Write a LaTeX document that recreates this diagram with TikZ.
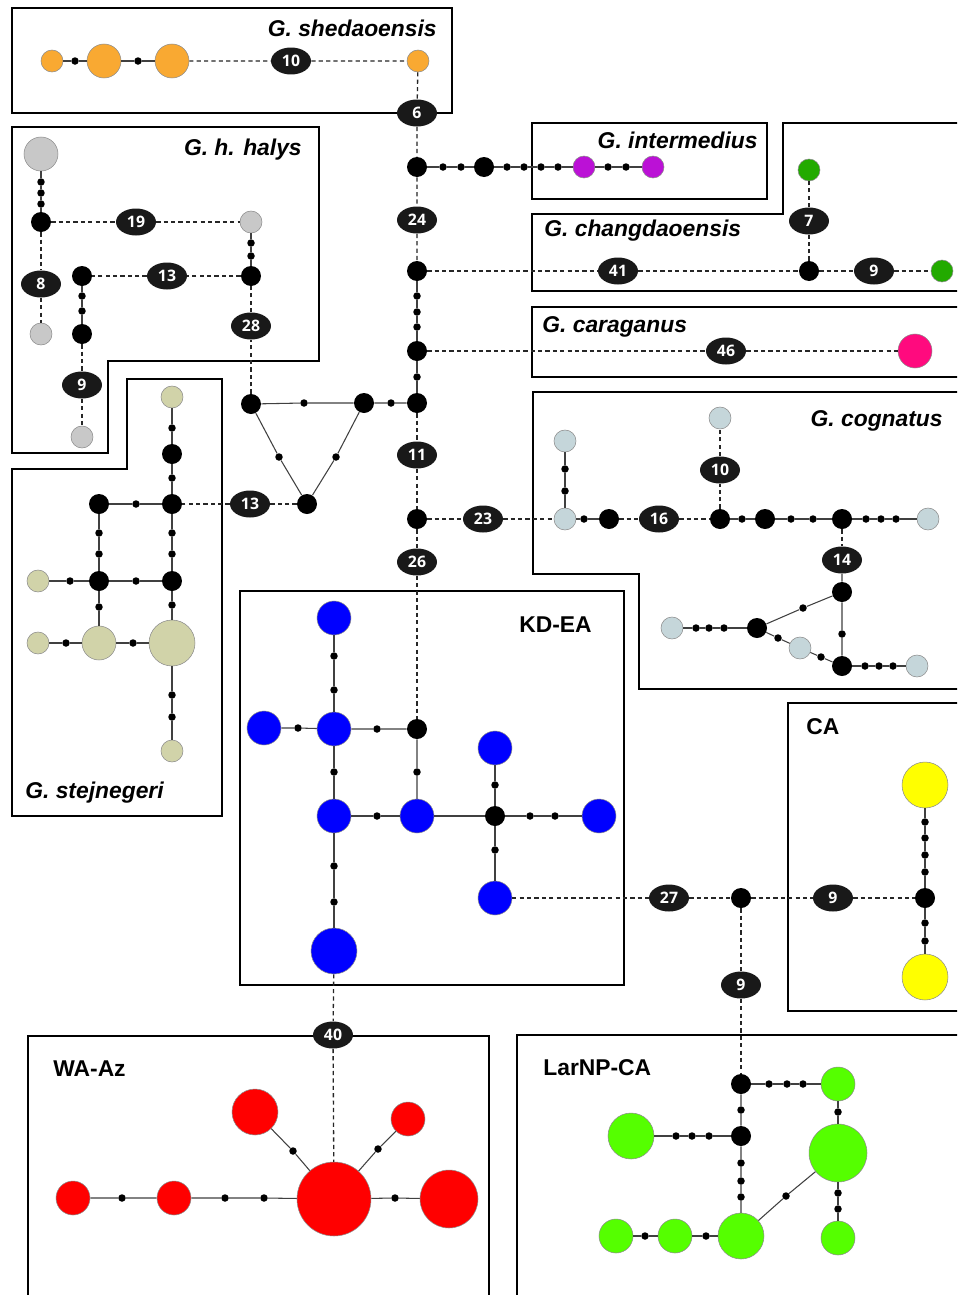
\documentclass[tikz,border=0pt]{standalone}
\usepackage{fontspec}
\setsansfont{Liberation Sans}
\newfontfamily\numfont{Open Sans}
\usetikzlibrary{shapes.geometric}
\definecolor{c_or}{HTML}{F9A932}
\definecolor{c_gy}{HTML}{C8C8C8}
\definecolor{c_pu}{HTML}{BB11D6}
\definecolor{c_dg}{HTML}{22AA00}
\definecolor{c_pk}{HTML}{FF0A7E}
\definecolor{c_tn}{HTML}{D1D3A9}
\definecolor{c_lb}{HTML}{C5D6DA}
\definecolor{c_bl}{HTML}{0000FF}
\definecolor{c_ye}{HTML}{FFFF00}
\definecolor{c_gr}{HTML}{55FF00}
\definecolor{c_rd}{HTML}{FF0000}
\tikzset{
  hap/.style 2 args = {circle, inner sep=0pt, fill=#1, draw=black!45,
    line width=0.3pt, minimum size=#2},
  mv_n/.style = {circle, inner sep=0pt, fill=black, minimum size=0.4cm},
  mv_d/.style = {circle, inner sep=0pt, fill=black, minimum size=0.15cm},
  mut_e/.style = {ellipse, inner sep=0pt, fill=black!90, text=white,
    minimum width=0.8cm, minimum height=0.54cm,
    font=\numfont\bfseries\fontsize{9}{10}\selectfont},
  lnk/.style = {draw=black!75, line width=0.6pt},
  gap/.style = {draw=black!85, line width=0.75pt, dash pattern=on 2.4pt off 1.8pt},
  frame_b/.style = {draw=black, line width=1.3pt},
  sp_lab/.style = {inner sep=0pt,
    font=\sffamily\bfseries\itshape\fontsize{13}{15}\selectfont},
  rg_lab/.style = {inner sep=0pt,
    font=\sffamily\bfseries\fontsize{13}{15}\selectfont}
}
\begin{document}
\begin{tikzpicture}[x=0.02cm, y=-0.02cm]
\clip (0,0) rectangle (957,1295);
\fill[white] (0,0) rectangle (957,1295);

\draw[frame_b] (12,8) rectangle (452,113);
\draw[frame_b] (12,127) -- (319,127) -- (319,361) -- (108,361) -- (108,453) -- (12,453) -- cycle;
\draw[frame_b] (127,379) -- (222,379) -- (222,816) -- (12,816) -- (12,469) -- (127,469) -- cycle;
\draw[frame_b] (532,123) rectangle (767,199);
\draw[frame_b] (965,123) -- (783,123) -- (783,214) -- (532,214) -- (532,291) -- (965,291);
\draw[frame_b] (965,307) -- (532,307) -- (532,377) -- (965,377);
\draw[frame_b] (965,392) -- (533,392) -- (533,574) -- (639,574) -- (639,689) -- (965,689);
\draw[frame_b] (240,591) rectangle (624,985);
\draw[frame_b] (965,703) -- (788,703) -- (788,1011) -- (965,1011);
\draw[frame_b] (28,1300) -- (28,1036) -- (489,1036) -- (489,1300);
\draw[frame_b] (517,1300) -- (517,1035) -- (965,1035);

\node[sp_lab, anchor=east] (t_sh) at (437,28) {G. shedaoensis};
\node[sp_lab, anchor=east] (t_ha) at (302,150) {G. h. halys};
\node[sp_lab, anchor=east] (t_in) at (758,140) {G. intermedius};
\node[sp_lab, anchor=west] (t_ch) at (544,231) {G. changdaoensis};
\node[sp_lab, anchor=west] (t_ca) at (542,327) {G. caraganus};
\node[sp_lab, anchor=east] (t_co) at (943,421) {G. cognatus};
\node[sp_lab, anchor=west] (t_st) at (25,793) {G. stejnegeri};
\node[rg_lab, anchor=west] (t_kd) at (519,625) {KD-EA};
\node[rg_lab, anchor=west] (t_cA) at (806,727) {CA};
\node[rg_lab, anchor=west] (t_wa) at (53,1069) {WA-Az};
\node[rg_lab, anchor=west] (t_la) at (543,1068) {LarNP-CA};

\node[hap={c_or}{0.44cm}] (sh1) at (52,61) {};
\node[hap={c_or}{0.68cm}] (sh2) at (104,61) {};
\node[hap={c_or}{0.68cm}] (sh3) at (172,61) {};
\node[hap={c_or}{0.44cm}] (sh4) at (418,61) {};
\node[mv_d] (sd1) at (75,61) {};
\node[mv_d] (sd2) at (138,61) {};
\node[mut_e] (n10a) at (291,61) {10};
\node[mut_e] (n6) at (417,113) {6};

\node[mv_n] (c1) at (417,167) {};
\node[mut_e] (n24) at (417,220) {24};
\node[mv_n] (c2) at (417,271) {};
\node[mv_d] (cd1) at (417,296) {};
\node[mv_d] (cd2) at (417,312) {};
\node[mv_d] (cd3) at (417,327) {};
\node[mv_n] (c3) at (417,351) {};
\node[mv_d] (cd4) at (417,377) {};
\node[mv_n] (c4) at (417,403) {};
\node[mut_e] (n11) at (417,455) {11};
\node[mv_n] (c5) at (417,519) {};
\node[mut_e] (n26) at (417,562) {26};

\node[mv_d] (id1) at (443,167) {};
\node[mv_d] (id2) at (461,167) {};
\node[mv_n] (i1) at (484,167) {};
\node[mv_d] (id3) at (507,167) {};
\node[mv_d] (id4) at (524,167) {};
\node[mv_d] (id5) at (541,167) {};
\node[mv_d] (id6) at (558,167) {};
\node[hap={c_pu}{0.44cm}] (ip1) at (584,167) {};
\node[mv_d] (id7) at (608,167) {};
\node[mv_d] (id8) at (626,167) {};
\node[hap={c_pu}{0.44cm}] (ip2) at (653,167) {};

\node[mut_e] (n41) at (618,271) {41};
\node[mv_n] (ch1) at (809,271) {};
\node[mut_e] (n7) at (809,221) {7};
\node[hap={c_dg}{0.44cm}] (cg1) at (809,170) {};
\node[mut_e] (n9a) at (874,271) {9};
\node[hap={c_dg}{0.44cm}] (cg2) at (942,271) {};

\node[mut_e] (n46) at (726,351) {46};
\node[hap={c_pk}{0.68cm}] (cr1) at (915,351) {};

\node[mv_d] (td1) at (391,403) {};
\node[mv_n] (t1) at (364,403) {};
\node[mv_d] (td2) at (304,403) {};
\node[mv_n] (t2) at (251,404) {};
\node[mv_d] (td3) at (279,457) {};
\node[mv_d] (td4) at (336,457) {};
\node[mv_n] (t3) at (307,504) {};
\node[mut_e] (n28) at (251,326) {28};
\node[mut_e] (n13b) at (250,504) {13};

\node[mv_n] (h1) at (251,276) {};
\node[mv_d] (hd1) at (251,256) {};
\node[mv_d] (hd2) at (251,243) {};
\node[hap={c_gy}{0.44cm}] (hg1) at (251,222) {};
\node[mut_e] (n13a) at (167,276) {13};
\node[mv_n] (h2) at (82,276) {};
\node[mv_d] (hd3) at (82,296) {};
\node[mv_d] (hd4) at (82,311) {};
\node[mv_n] (h3) at (82,334) {};
\node[mut_e] (n9b) at (82,385) {9};
\node[hap={c_gy}{0.44cm}] (hg2) at (82,437) {};
\node[hap={c_gy}{0.68cm}] (hg3) at (41,154) {};
\node[mv_d] (hd5) at (41,182) {};
\node[mv_d] (hd6) at (41,193) {};
\node[mv_d] (hd7) at (41,204) {};
\node[mv_n] (h4) at (41,222) {};
\node[mut_e] (n19) at (136,222) {19};
\node[mut_e] (n8) at (41,284) {8};
\node[hap={c_gy}{0.44cm}] (hg4) at (41,334) {};

\node[hap={c_tn}{0.44cm}] (sg1) at (172,397) {};
\node[mv_d] (jd1) at (172,428) {};
\node[mv_n] (sj2) at (172,454) {};
\node[mv_d] (jd2) at (172,478) {};
\node[mv_n] (sj1) at (172,504) {};
\node[mv_d] (jd3) at (136,504) {};
\node[mv_n] (sj3) at (99,504) {};
\node[mv_d] (jd4) at (99,533) {};
\node[mv_d] (jd5) at (99,554) {};
\node[mv_n] (sj4) at (99,581) {};
\node[mv_d] (jd6) at (172,533) {};
\node[mv_d] (jd7) at (172,554) {};
\node[mv_n] (sj5) at (172,581) {};
\node[mv_d] (jd8) at (136,581) {};
\node[mv_d] (jd9) at (70,581) {};
\node[hap={c_tn}{0.44cm}] (sg2) at (38,581) {};
\node[mv_d] (jd10) at (99,607) {};
\node[hap={c_tn}{0.68cm}] (sg3) at (99,643) {};
\node[mv_d] (jd11) at (172,605) {};
\node[hap={c_tn}{0.92cm}] (sg4) at (172,643) {};
\node[hap={c_tn}{0.44cm}] (sg5) at (38,643) {};
\node[mv_d] (jd12) at (66,643) {};
\node[mv_d] (jd13) at (133,643) {};
\node[mv_d] (jd14) at (172,695) {};
\node[mv_d] (jd15) at (172,717) {};
\node[hap={c_tn}{0.44cm}] (sg6) at (172,751) {};

\node[mut_e] (n23) at (483,519) {23};
\node[hap={c_lb}{0.44cm}] (cb1) at (565,519) {};
\node[hap={c_lb}{0.44cm}] (cb2) at (565,441) {};
\node[mv_d] (od1) at (565,469) {};
\node[mv_d] (od2) at (565,491) {};
\node[mv_d] (od3) at (584,519) {};
\node[mv_n] (co1) at (609,519) {};
\node[mut_e] (n16) at (659,519) {16};
\node[mv_n] (co2) at (720,519) {};
\node[mut_e] (n10b) at (720,470) {10};
\node[hap={c_lb}{0.44cm}] (cb3) at (720,418) {};
\node[mv_d] (od4) at (742,519) {};
\node[mv_n] (co3) at (765,519) {};
\node[mv_d] (od5) at (791,519) {};
\node[mv_d] (od6) at (813,519) {};
\node[mv_n] (co4) at (842,519) {};
\node[mv_d] (od7) at (866,519) {};
\node[mv_d] (od8) at (881,519) {};
\node[mv_d] (od9) at (896,519) {};
\node[hap={c_lb}{0.44cm}] (cb4) at (928,519) {};
\node[mut_e] (n14) at (842,560) {14};
\node[mv_n] (co5) at (842,592) {};
\node[mv_n] (co6) at (757,628) {};
\node[mv_d] (od10) at (803,608) {};
\node[mv_d] (od11) at (842,634) {};
\node[mv_n] (co7) at (842,666) {};
\node[mv_d] (od12) at (778,638) {};
\node[hap={c_lb}{0.44cm}] (cb5) at (800,648) {};
\node[mv_d] (od13) at (821,657) {};
\node[hap={c_lb}{0.44cm}] (cb6) at (672,628) {};
\node[mv_d] (od14) at (696,628) {};
\node[mv_d] (od15) at (709,628) {};
\node[mv_d] (od16) at (724,628) {};
\node[mv_d] (od17) at (865,666) {};
\node[mv_d] (od18) at (879,666) {};
\node[mv_d] (od19) at (893,666) {};
\node[hap={c_lb}{0.44cm}] (cb7) at (917,666) {};

\node[hap={c_bl}{0.68cm}] (kb1) at (334,618) {};
\node[mv_d] (kd1) at (334,656) {};
\node[mv_d] (kd2) at (334,690) {};
\node[hap={c_bl}{0.68cm}] (kb2) at (334,729) {};
\node[hap={c_bl}{0.68cm}] (kb3) at (264,728) {};
\node[mv_d] (kd3) at (298,728) {};
\node[mv_d] (kd4) at (377,729) {};
\node[mv_n] (k1) at (417,729) {};
\node[mv_d] (kd5) at (417,772) {};
\node[hap={c_bl}{0.68cm}] (kb4) at (417,816) {};
\node[mv_d] (kd6) at (334,772) {};
\node[hap={c_bl}{0.68cm}] (kb5) at (334,816) {};
\node[mv_d] (kd7) at (377,816) {};
\node[mv_n] (k2) at (495,816) {};
\node[mv_d] (kd8) at (495,785) {};
\node[hap={c_bl}{0.68cm}] (kb6) at (495,748) {};
\node[mv_d] (kd9) at (530,816) {};
\node[mv_d] (kd10) at (555,816) {};
\node[hap={c_bl}{0.68cm}] (kb7) at (599,816) {};
\node[mv_d] (kd11) at (495,850) {};
\node[hap={c_bl}{0.68cm}] (kb8) at (495,898) {};
\node[mv_d] (kd12) at (334,866) {};
\node[mv_d] (kd13) at (334,902) {};
\node[hap={c_bl}{0.92cm}] (kb9) at (334,951) {};

\node[mut_e] (n27) at (669,898) {27};
\node[mv_n] (x1) at (741,898) {};
\node[mut_e] (n9c) at (833,898) {9};
\node[mv_n] (ca1) at (925,898) {};
\node[mut_e] (n9d) at (741,985) {9};
\node[mut_e] (n40) at (333,1035) {40};

\node[hap={c_ye}{0.92cm}] (cy1) at (925,785) {};
\node[mv_d] (ad1) at (925,822) {};
\node[mv_d] (ad2) at (925,838) {};
\node[mv_d] (ad3) at (925,855) {};
\node[mv_d] (ad4) at (925,872) {};
\node[mv_d] (ad5) at (925,923) {};
\node[mv_d] (ad6) at (925,941) {};
\node[hap={c_ye}{0.92cm}] (cy2) at (925,977) {};

\node[mv_n] (l1) at (741,1084) {};
\node[mv_d] (ld1) at (769,1084) {};
\node[mv_d] (ld2) at (787,1084) {};
\node[mv_d] (ld3) at (803,1084) {};
\node[hap={c_gr}{0.68cm}] (lg1) at (838,1084) {};
\node[mv_d] (ld4) at (838,1112) {};
\node[hap={c_gr}{1.16cm}] (lg2) at (838,1153) {};
\node[mv_d] (ld5) at (838,1193) {};
\node[mv_d] (ld6) at (838,1209) {};
\node[hap={c_gr}{0.68cm}] (lg3) at (838,1238) {};
\node[mv_d] (ld7) at (741,1110) {};
\node[mv_n] (l2) at (741,1136) {};
\node[hap={c_gr}{0.92cm}] (lg4) at (631,1136) {};
\node[mv_d] (ld8) at (676,1136) {};
\node[mv_d] (ld9) at (692,1136) {};
\node[mv_d] (ld10) at (709,1136) {};
\node[mv_d] (ld11) at (741,1163) {};
\node[mv_d] (ld12) at (741,1181) {};
\node[mv_d] (ld13) at (741,1197) {};
\node[hap={c_gr}{0.92cm}] (lg5) at (741,1236) {};
\node[mv_d] (ld14) at (786,1196) {};
\node[hap={c_gr}{0.68cm}] (lg6) at (616,1236) {};
\node[mv_d] (ld15) at (645,1236) {};
\node[hap={c_gr}{0.68cm}] (lg7) at (675,1236) {};
\node[mv_d] (ld16) at (706,1236) {};

\node[hap={c_rd}{1.48cm}] (w1) at (334,1199) {};
\node[hap={c_rd}{0.92cm}] (wr1) at (255,1112) {};
\node[mv_d] (wd1) at (293,1151) {};
\node[hap={c_rd}{0.68cm}] (wr2) at (408,1119) {};
\node[mv_d] (wd2) at (378,1149) {};
\node[hap={c_rd}{0.68cm}] (wr3) at (73,1198) {};
\node[mv_d] (wd3) at (122,1198) {};
\node[hap={c_rd}{0.68cm}] (wr4) at (174,1198) {};
\node[mv_d] (wd4) at (225,1198) {};
\node[mv_d] (wd5) at (264,1198) {};
\node[mv_d] (wd6) at (395,1198) {};
\node[hap={c_rd}{1.16cm}] (wr5) at (449,1199) {};

\draw[lnk] (sh1) -- (sd1) -- (sh2) -- (sd2) -- (sh3);
\draw[gap] (sh3) -- (n10a) -- (sh4) -- (n6) -- (c1) -- (n24) -- (c2);
\draw[lnk] (c1) -- (id1) -- (id2) -- (i1) -- (id3) -- (id4) -- (id5) -- (id6) -- (ip1) -- (id7) -- (id8) -- (ip2);
\draw[lnk] (c2) -- (cd1) -- (cd2) -- (cd3) -- (c3) -- (cd4) -- (c4);
\draw[gap] (c4) -- (n11) -- (c5) -- (n26) -- (k1);
\draw[gap] (c2) -- (n41) -- (ch1) -- (n9a) -- (cg2);
\draw[gap] (ch1) -- (n7) -- (cg1);
\draw[gap] (c3) -- (n46) -- (cr1);
\draw[lnk] (c4) -- (td1) -- (t1) -- (td2) -- (t2) -- (td3) -- (t3) -- (td4) -- (t1);
\draw[gap] (t2) -- (n28) -- (h1) -- (n13a) -- (h2);
\draw[gap] (t3) -- (n13b) -- (sj1);
\draw[lnk] (h1) -- (hd1) -- (hd2) -- (hg1);
\draw[lnk] (h2) -- (hd3) -- (hd4) -- (h3);
\draw[gap] (h3) -- (n9b) -- (hg2);
\draw[lnk] (hg3) -- (hd5) -- (hd6) -- (hd7) -- (h4);
\draw[gap] (h4) -- (n19) -- (hg1);
\draw[gap] (h4) -- (n8) -- (hg4);
\draw[lnk] (sg1) -- (jd1) -- (sj2) -- (jd2) -- (sj1) -- (jd6) -- (jd7) -- (sj5) -- (jd11) -- (sg4) -- (jd14) -- (jd15) -- (sg6);
\draw[lnk] (sj1) -- (jd3) -- (sj3) -- (jd4) -- (jd5) -- (sj4) -- (jd10) -- (sg3);
\draw[lnk] (sg2) -- (jd9) -- (sj4) -- (jd8) -- (sj5);
\draw[lnk] (sg5) -- (jd12) -- (sg3) -- (jd13) -- (sg4);
\draw[gap] (c5) -- (n23) -- (cb1);
\draw[lnk] (cb2) -- (od1) -- (od2) -- (cb1) -- (od3) -- (co1);
\draw[gap] (co1) -- (n16) -- (co2) -- (n10b) -- (cb3);
\draw[lnk] (co2) -- (od4) -- (co3) -- (od5) -- (od6) -- (co4) -- (od7) -- (od8) -- (od9) -- (cb4);
\draw[gap] (co4) -- (n14);
\draw[lnk] (n14) -- (co5) -- (od11) -- (co7) -- (od13) -- (cb5) -- (od12) -- (co6) -- (od10) -- (co5);
\draw[lnk] (cb6) -- (od14) -- (od15) -- (od16) -- (co6);
\draw[lnk] (co7) -- (od17) -- (od18) -- (od19) -- (cb7);
\draw[lnk] (kb1) -- (kd1) -- (kd2) -- (kb2) -- (kd6) -- (kb5) -- (kd12) -- (kd13) -- (kb9);
\draw[lnk] (kb3) -- (kd3) -- (kb2) -- (kd4) -- (k1) -- (kd5) -- (kb4);
\draw[lnk] (kb5) -- (kd7) -- (kb4) -- (k2) -- (kd9) -- (kd10) -- (kb7);
\draw[lnk] (kb6) -- (kd8) -- (k2) -- (kd11) -- (kb8);
\draw[gap] (kb8) -- (n27) -- (x1) -- (n9c) -- (ca1);
\draw[gap] (x1) -- (n9d) -- (l1);
\draw[gap] (kb9) -- (n40) -- (w1);
\draw[lnk] (cy1) -- (ad1) -- (ad2) -- (ad3) -- (ad4) -- (ca1) -- (ad5) -- (ad6) -- (cy2);
\draw[lnk] (l1) -- (ld1) -- (ld2) -- (ld3) -- (lg1) -- (ld4) -- (lg2) -- (ld5) -- (ld6) -- (lg3);
\draw[lnk] (l1) -- (ld7) -- (l2) -- (ld11) -- (ld12) -- (ld13) -- (lg5) -- (ld14) -- (lg2);
\draw[lnk] (lg4) -- (ld8) -- (ld9) -- (ld10) -- (l2);
\draw[lnk] (lg6) -- (ld15) -- (lg7) -- (ld16) -- (lg5);
\draw[lnk] (wr1) -- (wd1) -- (w1) -- (wd2) -- (wr2);
\draw[lnk] (wr3) -- (wd3) -- (wr4) -- (wd4) -- (wd5) -- (w1) -- (wd6) -- (wr5);
\end{tikzpicture}
\end{document}
